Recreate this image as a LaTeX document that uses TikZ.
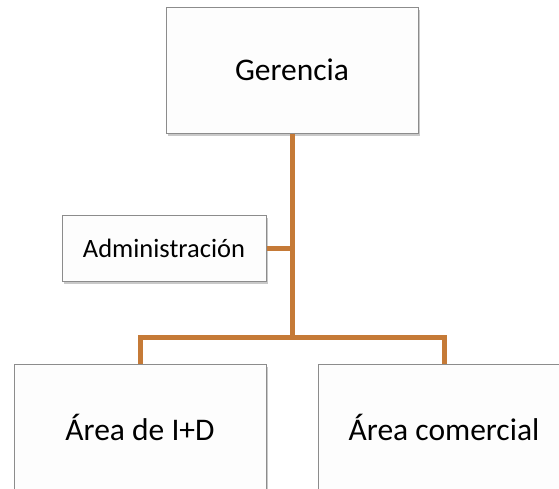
\documentclass[tikz,border=0pt]{standalone}
\usepackage{fontspec}
\setmainfont{Carlito}
\usetikzlibrary{shadows}
\definecolor{conn}{RGB}{197,122,55}
\definecolor{boxline}{RGB}{140,140,140}
\definecolor{boxfill}{RGB}{253,253,253}
\tikzset{
  orgbox/.style={draw=boxline, line width=1pt, fill=boxfill, inner sep=0pt,
    drop shadow={shadow xshift=1.5pt, shadow yshift=-2.5pt, opacity=0.3, fill=black!70}},
  connline/.style={draw=conn, line width=5pt, line join=miter}
}
\begin{document}
\begin{tikzpicture}[x=1pt,y=-1pt]
\useasboundingbox (0,0) rectangle (559,488);
\clip (0,0) rectangle (559,488);
\node[orgbox, minimum width=252pt, minimum height=126pt, font=\fontsize{31.5}{36}\selectfont] (ger) at (292,70) {Gerencia};
\node[orgbox, minimum width=204pt, minimum height=66pt, font=\fontsize{26.5}{30}\selectfont] (adm) at (164,248) {Administración};
\node[orgbox, minimum width=252pt, minimum height=126pt, font=\fontsize{31.5}{36}\selectfont] (idn) at (140,427) {Área de I+D};
\node[orgbox, minimum width=252pt, minimum height=126pt, font=\fontsize{31.5}{36}\selectfont] (com) at (444,427) {Área comercial};
\coordinate (bus) at (292,337.5);
\draw[connline] (ger.south) -- (bus);
\draw[connline] (adm.east) -- (adm.east -| bus);
\draw[connline] (idn.north) -- (idn.north |- bus) -- (com.north |- bus) -- (com.north);
\end{tikzpicture}
\end{document}
